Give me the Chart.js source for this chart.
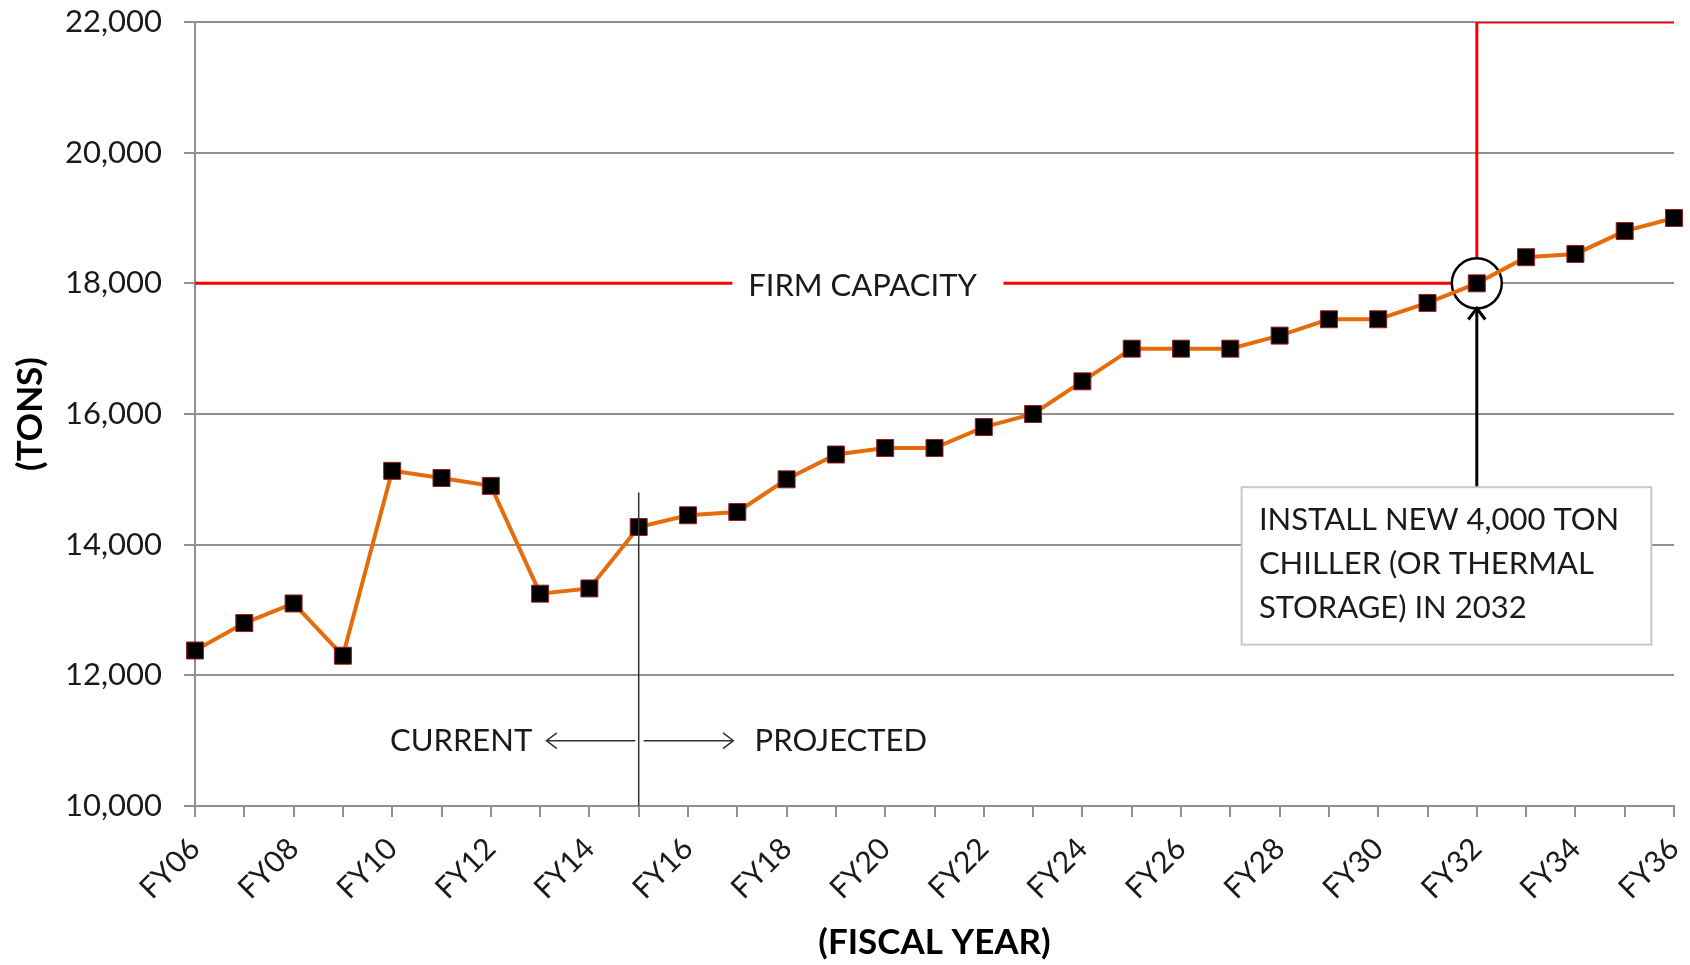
<!DOCTYPE html>
<html>
<head>
<meta charset="utf-8">
<script src="https://cdn.jsdelivr.net/npm/chart.js"></script>
<style>
  html, body { margin: 0; padding: 0; background: #fff; }
  #wrap { width: 1690px; height: 965px; position: relative; }
</style>
</head>
<body>
<div id="wrap"><canvas id="chillerChart"></canvas></div>
<script>
// Fiscal years on the x axis
const years = ['FY06', 'FY07', 'FY08', 'FY09', 'FY10', 'FY11', 'FY12', 'FY13', 'FY14', 'FY15',
               'FY16', 'FY17', 'FY18', 'FY19', 'FY20', 'FY21', 'FY22', 'FY23', 'FY24', 'FY25',
               'FY26', 'FY27', 'FY28', 'FY29', 'FY30', 'FY31', 'FY32', 'FY33', 'FY34', 'FY35', 'FY36'];

// Cooling load (tons), current then projected
const loadTons = [12380, 12800, 13100, 12300, 15130, 15020, 14900, 13250, 13330, 14270,
                  14450, 14500, 15000, 15380, 15480, 15480, 15800, 16000, 16500, 17000,
                  17000, 17000, 17200, 17450, 17450, 17700, 18000, 18400, 18450, 18800, 19000];

// Firm capacity (tons), new chiller in FY32
const firmCapacity = [18000, 18000, 18000, 18000, 18000, 18000, 18000, 18000, 18000, 18000,
                      18000, 18000, 18000, 18000, 18000, 18000, 18000, 18000, 18000, 18000,
                      18000, 18000, 18000, 18000, 18000, 18000, 22000, 22000, 22000, 22000, 22000];

const yTicks = [10000, 12000, 14000, 16000, 18000, 20000, 22000];

const FONT = 'Lato';

// annotations placed in data units (category index, tons)
const notes = {
    divider: { x: 9, yTop: 14800 },
    current: { text: 'CURRENT', from: 8.93, to: 7.13, textX: 6.84, y: 11000 },
    projected: { text: 'PROJECTED', from: 9.1, to: 10.92, textX: 11.35, y: 11000 },
    firm: { text: 'FIRM CAPACITY', x0: 10.9, x1: 16.4, cx: 13.54, y: 18000 },
    circle: { x: 26, y: 18000, r: 25 },
    callout: {
        x0: 21.23, x1: 29.54, yTop: 14880, yBottom: 12470, textX: 21.58,
        lines: ['INSTALL NEW 4,000 TON', 'CHILLER (OR THERMAL', 'STORAGE) IN 2032'],
        lineY: [14384, 13709, 13033]
    }
};

function arrow(ctx, x1, y1, x2, y2, head) {
    ctx.beginPath();
    ctx.moveTo(x1, y1);
    ctx.lineTo(x2, y2);
    ctx.stroke();
    const a = Math.atan2(y2 - y1, x2 - x1);
    ctx.beginPath();
    ctx.moveTo(x2 - head * Math.cos(a - 0.65), y2 - head * Math.sin(a - 0.65));
    ctx.lineTo(x2, y2);
    ctx.lineTo(x2 - head * Math.cos(a + 0.65), y2 - head * Math.sin(a + 0.65));
    ctx.stroke();
}

const annotationPlugin = {
    id: 'notes',
    // circle sits above the red capacity line but under the load series
    beforeDatasetDraw(chart, args) {
        if (args.index !== 0) return;
        const ctx = chart.ctx;
        const c = notes.circle;
        const x = chart.scales.x.getPixelForValue(c.x);
        const y = chart.scales.y.getPixelForValue(c.y);
        ctx.save();
        ctx.fillStyle = '#fff';
        ctx.strokeStyle = '#000';
        ctx.lineWidth = 2.5;
        ctx.beginPath();
        ctx.arc(x, y, c.r, 0, Math.PI * 2);
        ctx.fill();
        ctx.stroke();
        ctx.restore();
    },
    afterDatasetsDraw(chart) {
        const ctx = chart.ctx;
        const xs = chart.scales.x, ys = chart.scales.y;
        const px = v => xs.getPixelForValue(v);
        const py = v => ys.getPixelForValue(v);
        ctx.save();
        ctx.font = '31px ' + FONT;
        ctx.textBaseline = 'middle';
        ctx.fillStyle = '#1a1a1a';

        // divider current / projected
        ctx.strokeStyle = '#333';
        ctx.lineWidth = 1.5;
        ctx.beginPath();
        ctx.moveTo(px(notes.divider.x), py(notes.divider.yTop));
        ctx.lineTo(px(notes.divider.x), chart.chartArea.bottom);
        ctx.stroke();

        arrow(ctx, px(notes.current.from), py(notes.current.y), px(notes.current.to), py(notes.current.y), 13);
        arrow(ctx, px(notes.projected.from), py(notes.projected.y), px(notes.projected.to), py(notes.projected.y), 13);
        ctx.textAlign = 'right';
        ctx.fillText(notes.current.text, px(notes.current.textX), py(notes.current.y));
        ctx.textAlign = 'left';
        ctx.fillText(notes.projected.text, px(notes.projected.textX), py(notes.projected.y));

        // firm capacity label over the red line
        const f = notes.firm;
        ctx.fillStyle = '#fff';
        ctx.fillRect(px(f.x0), py(f.y) - 18, px(f.x1) - px(f.x0), 36);
        ctx.fillStyle = '#1a1a1a';
        ctx.textAlign = 'center';
        ctx.fillText(f.text, px(f.cx), py(f.y) + 3);

        // arrow from callout up to the circle
        const c = notes.circle;
        const b = notes.callout;
        ctx.strokeStyle = '#000';
        ctx.lineWidth = 3;
        arrow(ctx, px(c.x), py(b.yTop), px(c.x), py(c.y) + c.r, 14);

        ctx.fillStyle = '#fff';
        ctx.fillRect(px(b.x0), py(b.yTop), px(b.x1) - px(b.x0), py(b.yBottom) - py(b.yTop));
        ctx.strokeStyle = '#c8c8c8';
        ctx.lineWidth = 2;
        ctx.strokeRect(px(b.x0), py(b.yTop), px(b.x1) - px(b.x0), py(b.yBottom) - py(b.yTop));
        ctx.fillStyle = '#1a1a1a';
        ctx.textAlign = 'left';
        b.lines.forEach((t, i) => ctx.fillText(t, px(b.textX), py(b.lineY[i])));
        ctx.restore();
    }
};

const ctx = document.getElementById('chillerChart').getContext('2d');
const chart = new Chart(ctx, {
    type: 'line',
    data: {
        labels: years,
        datasets: [{
            label: 'Load',
            data: loadTons,
            borderColor: '#e46c0a',
            borderWidth: 4,
            pointStyle: 'rect',
            pointRadius: 12,
            pointBackgroundColor: '#000',
            pointBorderColor: '#9b1c1c',
            pointBorderWidth: 1,
            tension: 0
        }, {
            label: 'Firm capacity',
            data: firmCapacity,
            borderColor: '#ff0000',
            borderWidth: 3,
            pointRadius: 0,
            stepped: true
        }]
    },
    options: {
        responsive: true,
        maintainAspectRatio: false,
        animation: false,
        layout: { padding: 0 },
        plugins: {
            legend: { display: false },
            tooltip: { enabled: false }
        },
        scales: {
            x: {
                grid: { drawOnChartArea: false, color: '#909090', lineWidth: 2, tickLength: 11 },
                border: { color: '#909090', width: 2 },
                ticks: {
                    autoSkip: false,
                    minRotation: 45,
                    maxRotation: 45,
                    padding: 14,
                    color: '#1a1a1a',
                    font: { family: FONT, size: 30 },
                    callback: (v, i) => (i % 2 === 0 ? years[i] : '')
                },
                title: {
                    display: true,
                    text: '(FISCAL YEAR)',
                    color: '#000',
                    font: { family: FONT, size: 35, weight: 'bold' },
                    padding: { top: 0, bottom: 1 }
                },
                afterFit: s => { s.height = 159; s.paddingRight = 16; }
            },
            y: {
                min: yTicks[0],
                max: yTicks[yTicks.length - 1],
                grid: { color: '#909090', lineWidth: 2, tickLength: 11 },
                border: { color: '#909090', width: 2 },
                ticks: {
                    stepSize: 2000,
                    padding: 22,
                    color: '#1a1a1a',
                    font: { family: FONT, size: 31 }
                },
                afterBuildTicks: s => { s.ticks = yTicks.map(v => ({ value: v })); },
                title: {
                    display: true,
                    text: '(TONS)',
                    color: '#000',
                    font: { family: FONT, size: 35, weight: 'bold' },
                    padding: { top: 10, bottom: 0 }
                },
                afterFit: s => { s.width = 195; s.paddingTop = 22; }
            }
        }
    },
    plugins: [annotationPlugin]
});
</script>
</body>
</html>
